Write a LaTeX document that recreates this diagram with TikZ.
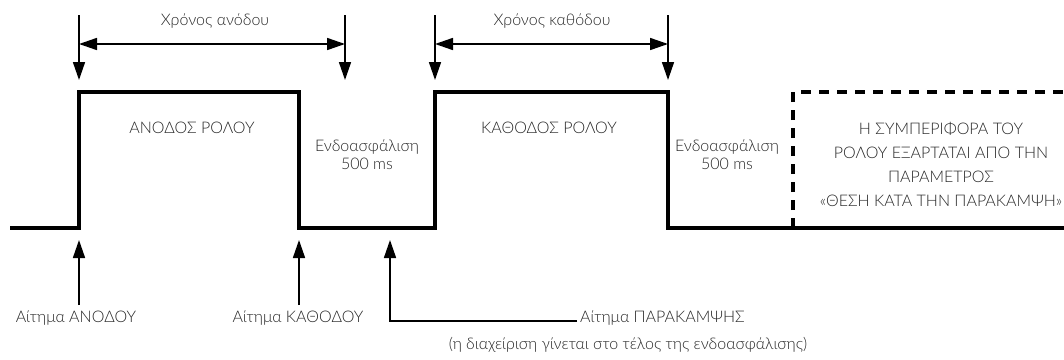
\documentclass[tikz,border=0pt]{standalone}
\usepackage{fontspec}
\setmainfont{Lato Light}
\usetikzlibrary{arrows.meta, positioning}
\usepackage{xcolor}

\begin{document}
\begin{tikzpicture}[
    x=1pt,
    y=-1pt,
    every node/.style={
        font=\fontsize{16}{18}\selectfont,
        text=black!85,
        inner sep=0pt
    },
    sinal/.style={
        draw=black,
        line width=3.5pt
    },
    tracejado/.style={
        draw=black,
        line width=3.5pt,
        dash pattern=on 10pt off 8pt
    },
    marca/.style={
        draw=black,
        line width=1.6pt,
        -{Triangle[length=18pt,width=12pt]}
    },
    intervalo/.style={
        draw=black,
        line width=1.6pt,
        {Triangle[length=18pt,width=12pt]}-{Triangle[length=18pt,width=12pt]}
    }
]

\useasboundingbox (0,0) rectangle (1064,359);

% ============================================================
% SINAL
% ============================================================

\coordinate (inicio)       at (10,228);
\coordinate (subida)       at (79,228);
\coordinate (subidaTopo)   at (79,92);
\coordinate (descidaTopo)  at (299,92);
\coordinate (descida)      at (299,228);
\coordinate (subida2)      at (435,228);
\coordinate (subida2Topo)  at (435,92);
\coordinate (descida2Topo) at (668,92);
\coordinate (descida2)     at (668,228);
\coordinate (fim)          at (1064,228);

\draw[sinal]
(inicio) -- (subida) -- (subidaTopo) -- (descidaTopo) -- (descida) --
(subida2) -- (subida2Topo) -- (descida2Topo) -- (descida2) -- (fim);

% Zona dependente do parametro
\coordinate (zonaBase) at (793,228);
\coordinate (zonaTopo) at (793,92);
\coordinate (zonaFim)  at (1064,92);

\draw[tracejado]
(zonaBase) -- (zonaTopo) -- (zonaFim);

% ============================================================
% TEMPOS
% ============================================================

\coordinate (m1a) at (79,15);  \coordinate (m1b) at (79,80);
\coordinate (m2a) at (345,15); \coordinate (m2b) at (345,80);
\coordinate (m3a) at (435,15); \coordinate (m3b) at (435,80);
\coordinate (m4a) at (668,15); \coordinate (m4b) at (668,80);

\draw[marca] (m1a) -- (m1b);
\draw[marca] (m2a) -- (m2b);
\draw[marca] (m3a) -- (m3b);
\draw[marca] (m4a) -- (m4b);

\coordinate (i1a) at (79,44);  \coordinate (i1b) at (345,44);
\coordinate (i2a) at (435,44); \coordinate (i2b) at (668,44);

\draw[intervalo] (i1a) -- (i1b);
\draw[intervalo] (i2a) -- (i2b);

\node (tempoSubida)  at (215,21) {Χρόνος ανόδου};
\node (tempoDescida) at (552,21) {Χρόνος καθόδου};

% ============================================================
% ESTADOS
% ============================================================

\node (estadoSubida)  at (192,128) {ΑΝΟΔΟΣ ΡΟΛΟΥ};
\node (estadoDescida) at (549,128) {ΚΑΘΟΔΟΣ ΡΟΛΟΥ};

\node[
    align=center
] (bloqueio1) at (367,155)
{Ενδοασφάλιση\\500 ms};

\node[
    align=center
] (bloqueio2) at (727,155)
{Ενδοασφάλιση\\500 ms};

\node[
    align=center,
    font=\fontsize{16}{24}\selectfont
] (zonaTexto) at (941,164)
{Η ΣΥΜΠΕΡΙΦΟΡΑ ΤΟΥ\\
ΡΟΛΟΥ ΕΞΑΡΤΑΤΑΙ ΑΠΟ ΤΗΝ\\
ΠΑΡΑΜΕΤΡΟΣ\\
«ΘΕΣΗ ΚΑΤΑ ΤΗΝ ΠΑΡΑΚΑΜΨΗ»};

% ============================================================
% PEDIDOS
% ============================================================

\node (pedidoSubida)  at (76,318)  {Αίτημα ΑΝΟΔΟΥ};
\node (pedidoDescida) at (298,318) {Αίτημα ΚΑΘΟΔΟΥ};

\coordinate (p1a) at (79,305);  \coordinate (p1b) at (79,240);
\coordinate (p2a) at (299,305); \coordinate (p2b) at (299,240);

\draw[marca] (p1a) -- (p1b);
\draw[marca] (p2a) -- (p2b);

\node[
    anchor=west
] (pedidoDesvio) at (580,318)
{Αίτημα ΠΑΡΑΚΑΜΨΗΣ};

\node (notaDesvio) at (628,345)
{(η διαχείριση γίνεται στο τέλος της ενδοασφάλισης)};

\coordinate (p3a) at (577,321);
\coordinate (p3c) at (390,321);
\coordinate (p3b) at (390,240);

\draw[marca] (p3a) -- (p3c) -- (p3b);

\end{tikzpicture}
\end{document}
